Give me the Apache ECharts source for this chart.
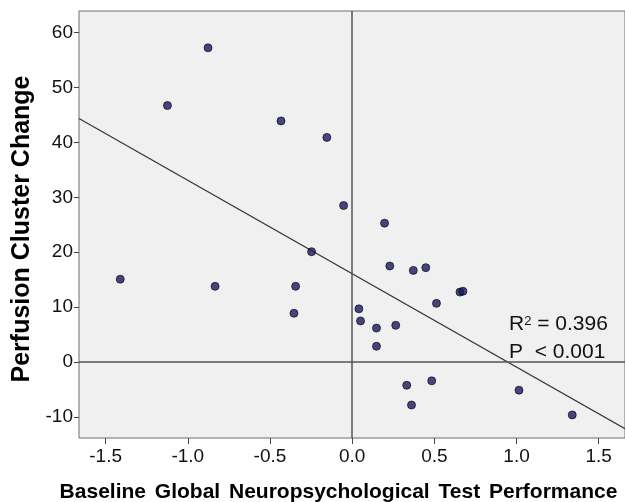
<!DOCTYPE html>
<html>
<head>
<meta charset="utf-8">
<script src="https://cdn.jsdelivr.net/npm/echarts@6/dist/echarts.min.js"></script>
<style>html,body{margin:0;padding:0;background:#fff}#c{width:625px;height:502px}</style>
</head>
<body>
<div id="c"></div>
<script>
var xValues = [-1.124,-0.877,-0.433,-0.154,-0.052,0.197,-1.411,-0.834,-0.344,-0.354,-0.247,0.229,0.372,0.448,0.656,0.674,0.513,0.041,0.051,0.148,0.265,0.148,0.332,0.484,0.361,1.015,1.339];
var yValues = [46.7,57.2,43.9,40.9,28.5,25.3,15.1,13.8,13.8,8.9,20.1,17.5,16.7,17.2,12.75,12.9,10.7,9.7,7.5,6.2,6.7,2.9,-4.2,-3.4,-7.8,-5.1,-9.6];
var xTicks = [-1.5,-1.0,-0.5,0.0,0.5,1.0,1.5];
var yTicks = [-10,0,10,20,30,40,50,60];
var fitIntercept = 16.1;
var fitSlope = -17.0;
var xMin = -1.662, xMax = 1.66, yMin = -13.8, yMax = 63.9;
var xTitleWords = ['Baseline','Global','Neuropsychological','Test','Performance'];
var yTitle = 'Perfusion Cluster Change';
var annotationLines = ['R{sup|2} = 0.396', 'P  < 0.001'];

var pts = xValues.map(function(x,i){return [x,yValues[i]];});
var fitLine = [[xMin, fitIntercept + fitSlope*xMin],[xMax, fitIntercept + fitSlope*xMax]];
var font = '"Liberation Sans", Arial, sans-serif';

var chart = echarts.init(document.getElementById('c'), null, {renderer:'canvas'});
chart.setOption({
  animation:false,
  backgroundColor:'#ffffff',
  grid:{left:79,top:11,right:0,bottom:64,containLabel:false,outerBoundsMode:'none',show:true,backgroundColor:'#f0f0f0',borderColor:'#6e6e6e',borderWidth:1},
  xAxis:{type:'value',min:xMin,max:xMax,
    axisLine:{show:false,onZero:false},
    splitLine:{show:false},
    axisTick:{show:true,customValues:xTicks,length:6,inside:false,lineStyle:{color:'#444',width:1}},
    axisLabel:{customValues:xTicks,formatter:function(v){return v.toFixed(1);},color:'#111',fontSize:19,fontFamily:font,margin:9},
    name:xTitleWords.join('{g| }'),nameLocation:'middle',nameGap:44,
    nameTextStyle:{fontSize:21,fontWeight:'bold',color:'#000',fontFamily:font,padding:[0,27,0,0],
      rich:{g:{fontSize:21,fontWeight:'bold',fontFamily:font,padding:[0,1.5,0,1.5]}}}
  },
  yAxis:{type:'value',min:yMin,max:yMax,
    axisLine:{show:false,onZero:false},
    splitLine:{show:false},
    axisTick:{show:true,customValues:yTicks,length:5,lineStyle:{color:'#444',width:1}},
    axisLabel:{customValues:yTicks,color:'#111',fontSize:19,fontFamily:font,margin:6},
    name:yTitle,nameLocation:'middle',nameGap:42,
    nameTextStyle:{fontSize:25,fontWeight:'bold',color:'#000',fontFamily:font,padding:[0,9,0,0]}
  },
  series:[
    {type:'line',data:fitLine,symbol:'none',silent:true,lineStyle:{color:'#333',width:1.2},z:2,
      markLine:{silent:true,symbol:'none',label:{show:false},lineStyle:{color:'#555',width:1.5,type:'solid'},
        data:[{xAxis:0},{yAxis:0}]}},
    {type:'scatter',data:pts,symbol:'circle',symbolSize:8,itemStyle:{color:'#1a1a62',borderColor:'#000',borderWidth:0.8},z:5}
  ],
  graphic:[
    {type:'text',left:509,top:310,style:{text:annotationLines.join('\n'),fill:'#111',font:'21px '+font,lineHeight:28,
      rich:{sup:{fontSize:13,verticalAlign:'top',padding:[5,0,0,0],fill:'#111',fontFamily:font}}}}
  ]
});
</script>
</body>
</html>
